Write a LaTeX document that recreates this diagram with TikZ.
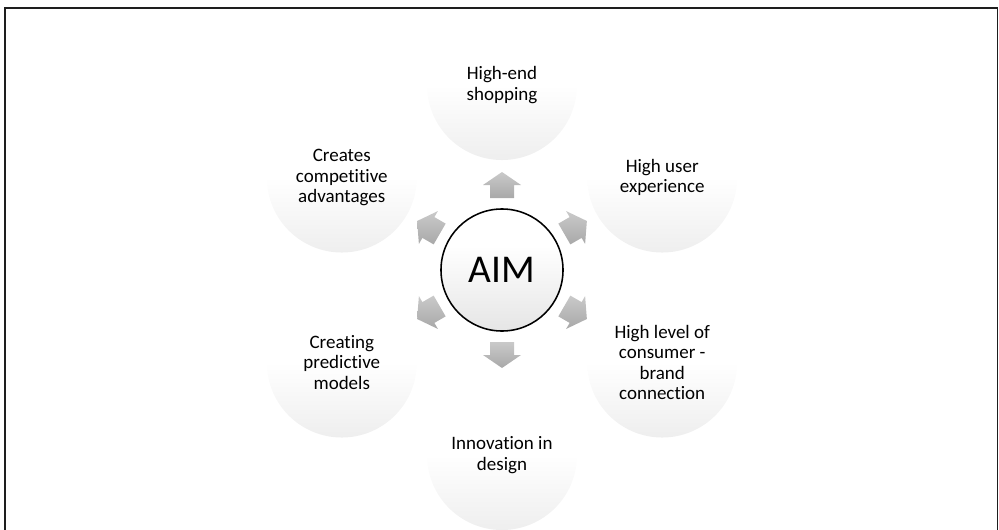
\documentclass[tikz,border=0pt]{standalone}
\usepackage{fontspec}
\setmainfont{Carlito}[Ligatures=NoCommon]
\usetikzlibrary{calc}
\definecolor{framegray}{RGB}{30,30,30}
\definecolor{ringlow}{RGB}{228,228,228}
\definecolor{aimlow}{RGB}{222,222,222}

\pgfdeclareverticalshading{itemshade}{100bp}{color(0bp)=(ringlow); color(10bp)=(ringlow); color(50bp)=(white); color(100bp)=(white)}
\pgfdeclareverticalshading{aimshade}{100bp}{color(0bp)=(aimlow); color(15bp)=(aimlow); color(60bp)=(white); color(100bp)=(white)}

\tikzset{
  goal/.style={circle, draw=black, line width=1.1pt, minimum size=3.05cm, inner sep=0pt,
    shading=aimshade, font=\fontsize{28}{30}\selectfont},
  item/.style={circle, minimum size=3.75cm, inner sep=0pt, align=center,
    shading=itemshade, font=\fontsize{13.5}{14.6}\selectfont},
  blockarrow/.style={top color=gray!42, bottom color=gray!68, draw=none}
}

\begin{document}
\begin{tikzpicture}[x=0.025cm,y=0.025cm]
        \useasboundingbox (0,0) rectangle (999,529);
        \clip (0,0) rectangle (999,529);
        \draw[framegray, line width=1.4pt] (5,-20) rectangle (997.5,521);
        \node[goal] (aim) at (502,259) {AIM};
        % outer ring, every 60 degrees
        \node[item] (shop) at ($(aim)+(90:185)$) {High-end\\shopping};
        \node[item] (ux) at ($(aim)+(30:185)$) {High user\\experience};
        \node[item] (brand) at ($(aim)+(-30:185)$) {High level of\\consumer -\\brand\\connection};
        \node[item] (design) at ($(aim)+(-90:185)$) {Innovation in\\design};
        \node[item] (models) at ($(aim)+(-150:185)$) {Creating\\predictive\\models};
        \node[item] (edge) at ($(aim)+(150:185)$) {Creates\\competitive\\advantages};
        \foreach \a in {90,30,-30,-90,-150,150}
        {
          \begin{scope}[shift={(aim)}, rotate=\a]
            \shade[blockarrow] (72,-12) -- (85,-12) -- (85,-19) -- (98,0) -- (85,19) -- (85,12) -- (72,12) -- cycle;
          \end{scope}
        }
\end{tikzpicture}
\end{document}
